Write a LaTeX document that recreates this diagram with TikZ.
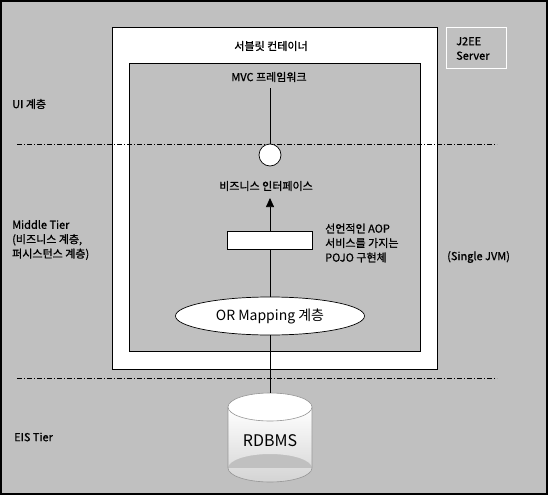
\documentclass[tikz,border=0pt]{standalone}
\usepackage{fontspec}
\setmainfont{Noto Sans CJK KR}
\newfontfamily\kbold{Noto Sans CJK KR}[FakeBold=0.9]
\usetikzlibrary{shapes.geometric,arrows.meta}
\definecolor{bg}{RGB}{192,192,192}
\definecolor{cylline}{RGB}{150,150,150}
\definecolor{cylbot}{RGB}{212,212,212}
\tikzset{
  lbl/.style={font=\kbold\fontsize{11}{14.5}\selectfont, inner sep=0pt},
  tierline/.style={line width=0.6pt, dash pattern=on 5pt off 2pt on 1pt off 2pt},
  conn/.style={line width=0.7pt},
}
\begin{document}
\begin{tikzpicture}[x=1pt,y=-1pt]
% background
\fill[bg] (0,0) rectangle (548,495);
\draw[line width=1.6pt] (0.8,0.8) rectangle (547.2,494.2);
\useasboundingbox (0,0) rectangle (548,495);
% servlet container and MVC box
\filldraw[fill=white, draw=black, line width=0.7pt] (112,27) rectangle (437,369);
\filldraw[fill=bg, draw=black, line width=0.7pt] (129,63) rectangle (420,351);
% J2EE server box
\draw[white, line width=0.7pt] (446,27) rectangle (506,68);
\node[lbl, anchor=west, align=left] (j2ee) at (456,48.5) {J2EE\\Server};
% tier lines
\draw[tierline] (17,144) -- (497,144);
\draw[tierline] (17,378) -- (497,378);
% labels
\node[lbl] (servlet) at (271,46) {서블릿 컨테이너};
\node[lbl] (mvc) at (269,77) {MVC 프레임워크};
\node[lbl, anchor=west] (ui) at (12,104) {UI 계층};
\node[lbl, anchor=west, align=left] (middle) at (12,240) {Middle Tier\\(비즈니스 계층,\\퍼시스턴스 계층)};
\node[lbl, anchor=west] (eis) at (14,437) {EIS Tier};
\node[lbl, anchor=west] (jvm) at (447,257) {(Single JVM)};
\node[lbl] (bizlabel) at (266,186) {비즈니스 인터페이스};
\node[lbl, anchor=west, align=left] (aop) at (325,243) {선언적인 AOP\\서비스를 가지는\\POJO 구현체};
% interface circle
\coordinate (mvcbot) at (270,88);
\node[circle, draw, fill=white, line width=0.7pt, minimum size=22pt, inner sep=0pt] (iface) at (270,155) {};
\draw[conn] (mvcbot) -- (iface.north);
% OR mapping ellipse
\node[ellipse, draw, fill=white, line width=0.7pt, minimum width=189pt, minimum height=38pt, inner sep=0pt, font=\fontsize{14}{16}\selectfont] (orm) at (270,316) {OR Mapping 계층};
\coordinate (tip) at (270,198);
\draw[conn, -{Triangle[length=9pt,width=8pt]}] (orm.north) -- (tip);
\node[draw, fill=white, line width=0.7pt, minimum width=85pt, minimum height=18pt, inner sep=0pt] (pojo) at (269.5,240) {};
% database cylinder
\shade[top color=white, bottom color=cylbot] (228,407) rectangle (312,468) (270,468) ellipse[x radius=42, y radius=14];
\draw[cylline, line width=0.6pt] (228,407) -- (228,468) arc[start angle=180, end angle=0, x radius=42, y radius=14] -- (312,407);
\filldraw[fill=white, draw=cylline, line width=0.6pt] (270,407) ellipse[x radius=42, y radius=14];
\coordinate (dbtop) at (270,393);
\node[inner sep=0pt, font=\fontsize{16}{18}\selectfont] (db) at (270,441) {RDBMS};
\draw[conn] (orm.south) -- (dbtop);
\end{tikzpicture}
\end{document}
